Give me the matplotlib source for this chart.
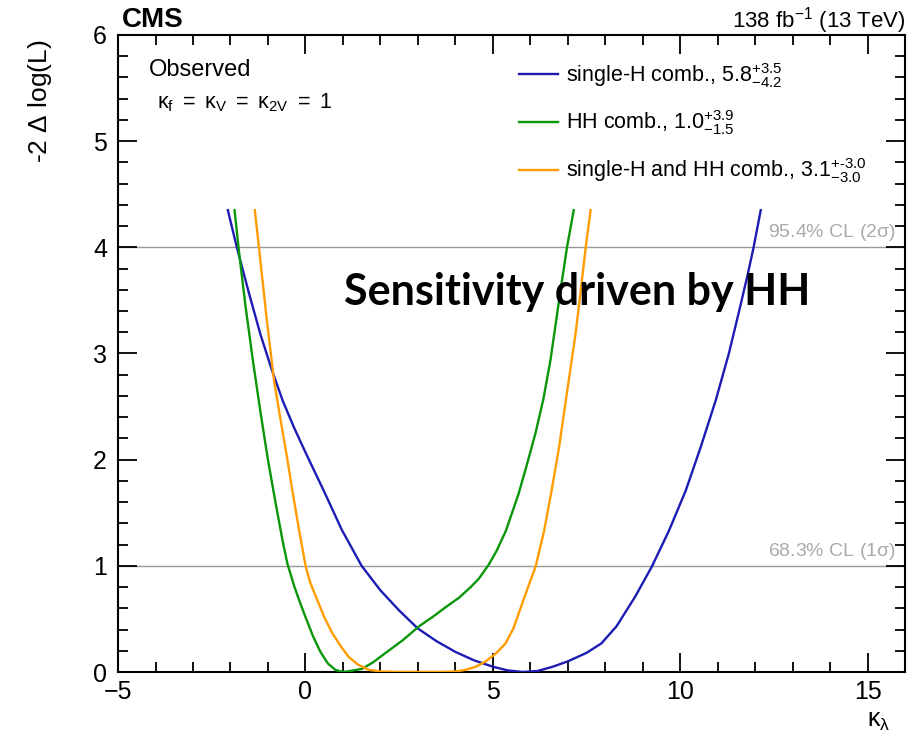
import matplotlib
matplotlib.use('Agg')
import matplotlib.pyplot as plt
from matplotlib.ticker import MultipleLocator

plt.rcParams['font.family'] = ['Liberation Sans', 'DejaVu Sans']
plt.rcParams['mathtext.fontset'] = 'custom'
plt.rcParams['mathtext.rm'] = 'Liberation Sans'
plt.rcParams['mathtext.it'] = 'Liberation Sans:italic'
plt.rcParams['mathtext.bf'] = 'Liberation Sans:bold'

# single-H combination scan
single_h_x = [-2.07, -1.83, -1.5, -1.2, -0.9, -0.6, -0.3, 0.0, 0.5, 0.97, 1.5, 2.0,
              2.5, 3.0, 3.5, 4.0, 4.5, 5.0, 5.4, 5.8, 6.2, 6.6, 7.0, 7.5, 7.9, 8.3,
              8.8, 9.24, 9.7, 10.15, 10.55, 10.95, 11.3, 11.56, 11.8, 11.96, 12.15]
single_h_y = [4.35, 4.0, 3.56, 3.18, 2.85, 2.55, 2.3, 2.07, 1.7, 1.34, 1.0, 0.77,
              0.58, 0.41, 0.29, 0.19, 0.11, 0.05, 0.015, 0.0, 0.01, 0.05, 0.1, 0.18, 0.27, 0.43,
              0.71, 0.99, 1.33, 1.71, 2.12, 2.56, 3.0, 3.38, 3.74, 4.0, 4.35]

# HH combination scan
hh_x = [-1.89, -1.77, -1.6, -1.4, -1.2, -1.0, -0.8, -0.6, -0.48, -0.3, -0.15, 0.0,
        0.2, 0.4, 0.6, 0.8, 1.0, 1.2, 1.51, 1.8, 2.14, 2.6, 3.03, 3.4, 3.74, 4.1,
        4.41, 4.63, 4.89, 5.1, 5.35, 5.69, 5.9, 6.14, 6.35, 6.54, 6.81, 6.98, 7.16]
hh_y = [4.35, 3.95, 3.45, 2.93, 2.45, 2.0, 1.6, 1.22, 1.02, 0.81, 0.66, 0.52,
        0.34, 0.19, 0.08, 0.02, 0.0, 0.01, 0.03, 0.09, 0.18, 0.3, 0.43, 0.52, 0.61, 0.7,
        0.8, 0.88, 1.01, 1.14, 1.33, 1.68, 1.94, 2.25, 2.57, 2.94, 3.6, 4.0, 4.35]

# single-H and HH combination scan
comb_x = [-1.35, -1.24, -1.05, -0.84, -0.66, -0.49, -0.33, -0.17, 0.01, 0.13, 0.28,
          0.5, 0.71, 0.95, 1.16, 1.4, 1.69, 2.0, 2.5, 3.1, 3.6, 4.0, 4.27, 4.55, 4.81,
          5.1, 5.34, 5.55, 5.69, 5.9, 6.14, 6.37, 6.57, 6.77, 6.95, 7.21, 7.35, 7.48,
          7.61]
comb_y = [4.35, 4.0, 3.38, 2.75, 2.37, 2.02, 1.67, 1.34, 0.99, 0.84, 0.71,
          0.52, 0.37, 0.24, 0.14, 0.07, 0.02, 0.005, 0.0, 0.0, 0.0, 0.005, 0.02, 0.05, 0.1,
          0.18, 0.27, 0.41, 0.55, 0.76, 0.99, 1.33, 1.71, 2.12, 2.56, 3.19, 3.6, 4.0,
          4.35]

labels = [r'single-H comb., 5.8$^{+3.5}_{-4.2}$',
          r'HH comb., 1.0$^{+3.9}_{-1.5}$',
          r'single-H and HH comb., 3.1$^{+\text{-}3.0}_{-3.0}$']
colors = ['#1c1cb4', '#0a960a', '#ff9c00']

cl_levels = [1.0, 4.0]
cl_labels = [r'68.3% CL (1$\mathregular{σ}$)', r'95.4% CL (2$\mathregular{σ}$)']

fig = plt.figure(figsize=(9.2, 7.35), dpi=100)
ax = fig.add_axes([0.1283, 0.0857, 0.8554, 0.8667])

# CL reference lines
for lvl, lab in zip(cl_levels, cl_labels):
    ax.axhline(lvl, color='#999999', lw=1.0, zorder=1)
    ax.text(15.75, lvl + 0.04, lab, color='#aaaaaa', fontsize=14,
            ha='right', va='bottom')

# likelihood scans
for xs, ys, c, lab in zip([single_h_x, hh_x, comb_x], [single_h_y, hh_y, comb_y],
                          colors, labels):
    ax.plot(xs, ys, color=c, lw=1.7, label=lab, zorder=3)

ax.set_xlim(-5, 16)
ax.set_ylim(0, 6)
ax.xaxis.set_major_locator(MultipleLocator(5))
ax.xaxis.set_minor_locator(MultipleLocator(1))
ax.yaxis.set_major_locator(MultipleLocator(1))
ax.yaxis.set_minor_locator(MultipleLocator(0.2))
ax.tick_params(which='both', direction='in', top=True, right=True,
               labelsize=18, width=1.3)
ax.tick_params(which='major', length=14, pad=6)
ax.tick_params(axis='y', which='major', pad=8)
ax.tick_params(which='minor', length=7)
for s in ax.spines.values():
    s.set_linewidth(1.5)

leg = ax.legend(loc='upper left', bbox_to_anchor=(0.485, 0.99), frameon=False,
                fontsize=15.5, handlelength=1.8, handletextpad=0.4,
                labelspacing=0.88)

ax.text(-4.18, 5.67, 'Observed', fontsize=17, va='center', ha='left')
ax.text(-3.95, 5.36, r'$\mathregular{κ_f\ =\ κ_V\ =\ κ_{2V}\ =\ 1}$',
        fontsize=15.5, va='center', ha='left')

ax.text(7.24, 3.58, 'Sensitivity driven by HH', fontsize=31, fontweight='bold',
        family=['Lato', 'DejaVu Sans'], ha='center', va='center', zorder=4)

fig.text(0.133, 0.963, 'CMS', fontsize=20, fontweight='bold', ha='left', va='baseline')
fig.text(0.984, 0.963, r'138 fb$^{-1}$ (13 TeV)', fontsize=16, ha='right', va='baseline')
fig.text(0.044, 0.947, r'-2 $\mathregular{Δ}$ log(L)', fontsize=19, rotation=90,
         ha='center', va='top')
fig.text(0.968, 0.003, r'$\mathregular{κ_λ}$', fontsize=18, ha='right', va='bottom')

fig.savefig('out.png', dpi=100)
